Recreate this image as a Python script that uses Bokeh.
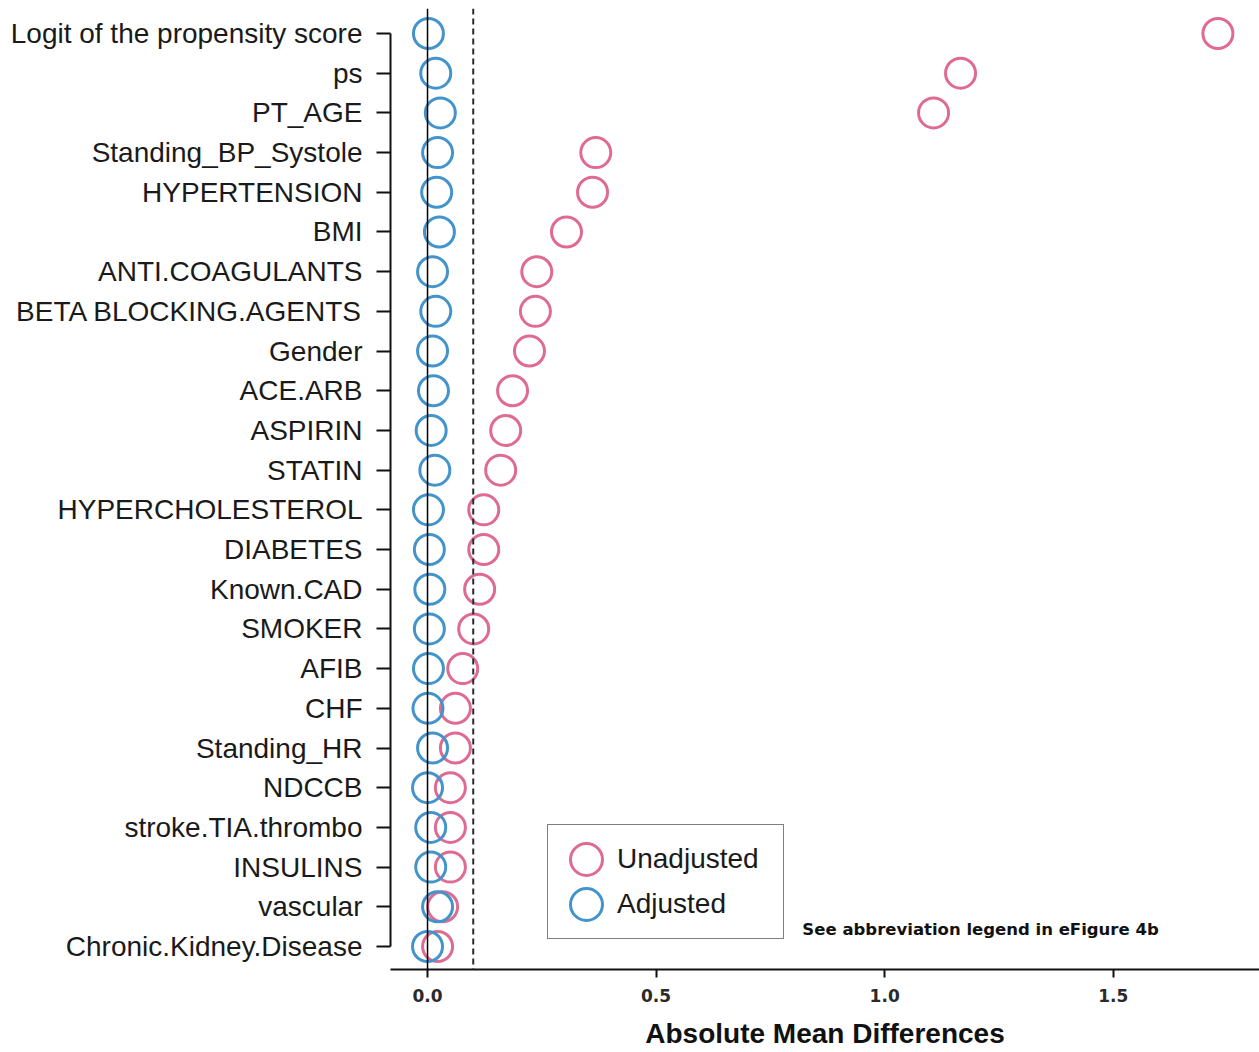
from bokeh.plotting import figure
from bokeh.models import (Range1d, FixedTicker, Span, Label, Legend, LegendItem,
                          ColumnDataSource)
from bokeh.embed import file_html
from bokeh.resources import INLINE

# Covariates, top to bottom
variables = [
    "Logit of the propensity score", "ps", "PT_AGE", "Standing_BP_Systole",
    "HYPERTENSION", "BMI", "ANTI.COAGULANTS", "BETA BLOCKING.AGENTS", "Gender",
    "ACE.ARB", "ASPIRIN", "STATIN", "HYPERCHOLESTEROL", "DIABETES", "Known.CAD",
    "SMOKER", "AFIB", "CHF", "Standing_HR", "NDCCB", "stroke.TIA.thrombo",
    "INSULINS", "vascular", "Chronic.Kidney.Disease",
]

# Absolute mean differences before and after matching
unadjusted = [1.729, 1.166, 1.107, 0.368, 0.361, 0.304, 0.239, 0.236, 0.223,
              0.186, 0.171, 0.160, 0.123, 0.123, 0.114, 0.101, 0.077, 0.061,
              0.061, 0.050, 0.050, 0.050, 0.033, 0.022]
adjusted = [0.002, 0.018, 0.028, 0.022, 0.020, 0.026, 0.011, 0.018, 0.011,
            0.013, 0.008, 0.016, 0.002, 0.004, 0.005, 0.004, 0.002, 0.001,
            0.011, 0.000, 0.007, 0.007, 0.022, 0.000]

x_ticks = [0.0, 0.5, 1.0, 1.5]
threshold = 0.1

PINK = "#DF6B93"
BLUE = "#4394CB"
FONT = "Liberation Sans"

n = len(variables)
ypos = [n - 1 - i for i in range(n)]

src = ColumnDataSource(dict(y=ypos, un=unadjusted, adj=adjusted, name=variables))

p = figure(width=1259, height=1052, output_backend="svg", toolbar_location=None,
           x_range=Range1d(-0.081, 1.82), y_range=Range1d(-0.58, n - 1 + 0.63),
           min_border_left=390, min_border_right=0, min_border_top=8,
           min_border_bottom=83)
p.outline_line_color = None
p.xgrid.visible = False
p.ygrid.visible = False
p.background_fill_color = "white"
p.border_fill_color = "white"

# reference lines at zero and at the 0.1 balance threshold
p.add_layout(Span(location=0, dimension="height", line_color="black", line_width=1.5))
p.add_layout(Span(location=threshold, dimension="height", line_color="#2a2a2a",
                  line_width=2, line_dash="6 4"))

r_un = p.ellipse(x="un", y="y", width=30, height=30, width_units="screen",
                 height_units="screen", source=src, fill_color=None,
                 line_color=PINK, line_width=3)
r_adj = p.ellipse(x="adj", y="y", width=30, height=30, width_units="screen",
                  height_units="screen", source=src, fill_color=None,
                  line_color=BLUE, line_width=3)

# y axis: covariate names
yax = p.yaxis[0]
yax.ticker = FixedTicker(ticks=ypos)
yax.major_label_overrides = {y: v for y, v in zip(ypos, variables)}
yax.bounds = (0, n - 1)
yax.major_label_text_font = FONT
yax.major_label_text_font_size = "28px"
yax.major_label_text_color = "#1a1a1a"
yax.major_tick_out = 14
yax.major_tick_in = 0
yax.minor_tick_out = 0
yax.minor_tick_in = 0
yax.major_label_standoff = 14
yax.axis_line_width = 2
yax.axis_line_color = "#111111"
yax.major_tick_line_width = 2
yax.major_tick_line_color = "#111111"

# x axis
xax = p.xaxis[0]
xax.ticker = FixedTicker(ticks=x_ticks)
xax.major_label_overrides = {t: f"{t:.1f}" for t in x_ticks}
xax.major_label_text_font = "DejaVu Sans"
xax.major_label_text_font_size = "17px"
xax.major_label_text_font_style = "bold"
xax.major_label_text_color = "#2a2a2a"
xax.major_tick_out = 8
xax.major_tick_in = 0
xax.minor_tick_out = 0
xax.minor_tick_in = 0
xax.major_label_standoff = 11
xax.axis_line_width = 2
xax.axis_line_color = "#111111"
xax.major_tick_line_width = 2
xax.major_tick_line_color = "#111111"
xax.axis_label = "Absolute Mean Differences"
xax.axis_label_text_font = FONT
xax.axis_label_text_font_size = "28px"
xax.axis_label_text_font_style = "bold"
xax.axis_label_text_color = "#111111"
xax.axis_label_standoff = 13

legend = Legend(items=[LegendItem(label="Unadjusted", renderers=[r_un]),
                       LegendItem(label="Adjusted", renderers=[r_adj])],
                location=(157, 30), orientation="vertical",
                border_line_color="black", border_line_width=1.5,
                background_fill_color="white", background_fill_alpha=1.0,
                padding=14, spacing=5, margin=0,
                glyph_width=48, glyph_height=40, label_height=40,
                label_width=152, label_standoff=7, label_text_font=FONT,
                label_text_font_size="28px", label_text_color="#1a1a1a")
p.add_layout(legend)

p.add_layout(Label(x=0.82, y=0.43, text="See abbreviation legend in eFigure 4b",
                   text_font="DejaVu Sans", text_font_size="16.5px",
                   text_font_style="bold", text_color="#111111",
                   text_baseline="middle", text_align="left"))

open("out.html", "w").write(file_html(p, INLINE))
